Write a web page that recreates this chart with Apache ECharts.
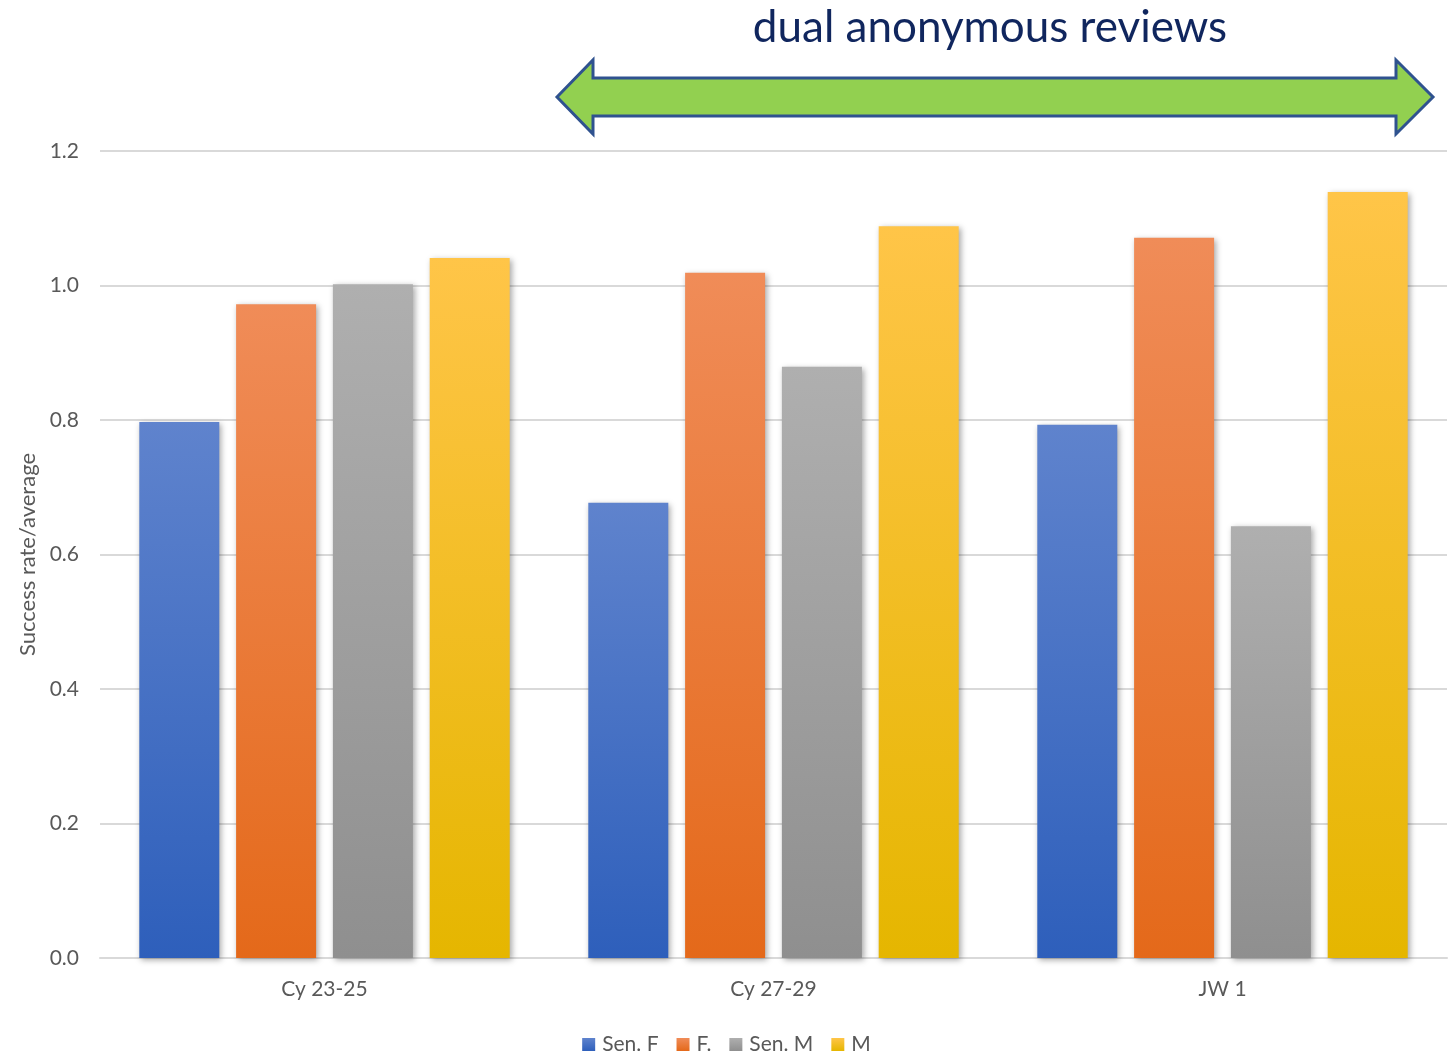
<!DOCTYPE html>
<html>
<head>
<meta charset="utf-8">
<script src="https://cdn.jsdelivr.net/npm/echarts@6/dist/echarts.min.js"></script>
<style>
  html, body { margin: 0; padding: 0; background: #ffffff; }
  #chart { width: 1453px; height: 1053px; }
</style>
</head>
<body>
<div id="chart"></div>
<script>
// Periods on the horizontal axis
const categories = ['Cy 23-25', 'Cy 27-29', 'JW 1'];
// Success rate relative to the average, per group
const senF = [0.797, 0.677, 0.793];
const fem  = [0.972, 1.019, 1.071];
const senM = [1.002, 0.879, 0.642];
const male = [1.041, 1.088, 1.139];
const yTicks = [0, 0.2, 0.4, 0.6, 0.8, 1.0, 1.2];

const chart = echarts.init(document.getElementById('chart'));

function grad(top, bottom) {
  return new echarts.graphic.LinearGradient(0, 0, 0, 1, [
    { offset: 0, color: top },
    { offset: 1, color: bottom }
  ]);
}

const seriesDefs = [
  { name: 'Sen. F', data: senF, color: grad('#5f83cd', '#2e5fbb') },
  { name: 'F.',     data: fem,  color: grad('#f08c58', '#e4691a') },
  { name: 'Sen. M', data: senM, color: grad('#afafaf', '#8f8f8f') },
  { name: 'M',      data: male, color: grad('#ffc548', '#e5b600') }
];

const font = 'Lato, sans-serif';

chart.setOption({
  animation: false,
  backgroundColor: '#ffffff',
  title: {
    text: 'dual anonymous reviews',
    left: 985,
    top: 1,
    textAlign: 'center',
    textStyle: { fontFamily: 'Lato, sans-serif', fontWeight: 'normal', fontSize: 44, color: '#10265e' }
  },
  grid: { left: 100, right: 6, top: 151, bottom: 95, containLabel: false },
  legend: {
    top: 1029,
    left: 'center',
    icon: 'rect',
    itemWidth: 13,
    itemHeight: 13,
    itemGap: 18,
    textStyle: { fontFamily: font, fontSize: 21, color: '#595959', padding: [0, 0, 0, 2] }
  },
  xAxis: {
    type: 'category',
    data: categories,
    axisLine: { lineStyle: { color: '#d9d9d9', width: 2 } },
    axisTick: { show: false },
    axisLabel: { fontFamily: font, fontSize: 21, color: '#595959', margin: 21 }
  },
  yAxis: {
    type: 'value',
    min: 0,
    max: 1.2,
    interval: 0.2,
    name: 'Success rate/average',
    nameLocation: 'middle',
    nameGap: 60,
    nameTextStyle: { fontFamily: font, fontSize: 22, color: '#595959' },
    axisLine: { show: false },
    axisTick: { show: false },
    axisLabel: {
      fontFamily: font, fontSize: 21, color: '#595959', margin: 21,
      formatter: v => yTicks.includes(Math.round(v * 10) / 10) ? v.toFixed(1) : ''
    },
    splitLine: { lineStyle: { color: '#d9d9d9', width: 2 } }
  },
  series: seriesDefs.map(s => ({
    name: s.name,
    type: 'bar',
    data: s.data,
    barWidth: 80,
    barGap: '21%',
    itemStyle: {
      color: s.color,
      shadowBlur: 6,
      shadowOffsetX: 2,
      shadowOffsetY: 2,
      shadowColor: 'rgba(0,0,0,0.35)'
    }
  })),
  graphic: [{
    type: 'polygon',
    shape: {
      points: [
        [557, 97], [593, 60], [593, 78], [1396, 78], [1396, 60],
        [1433, 97], [1396, 134], [1396, 116], [593, 116], [593, 134]
      ]
    },
    style: { fill: '#92d050', stroke: '#2f528f', lineWidth: 3 }
  }]
});
</script>
</body>
</html>
